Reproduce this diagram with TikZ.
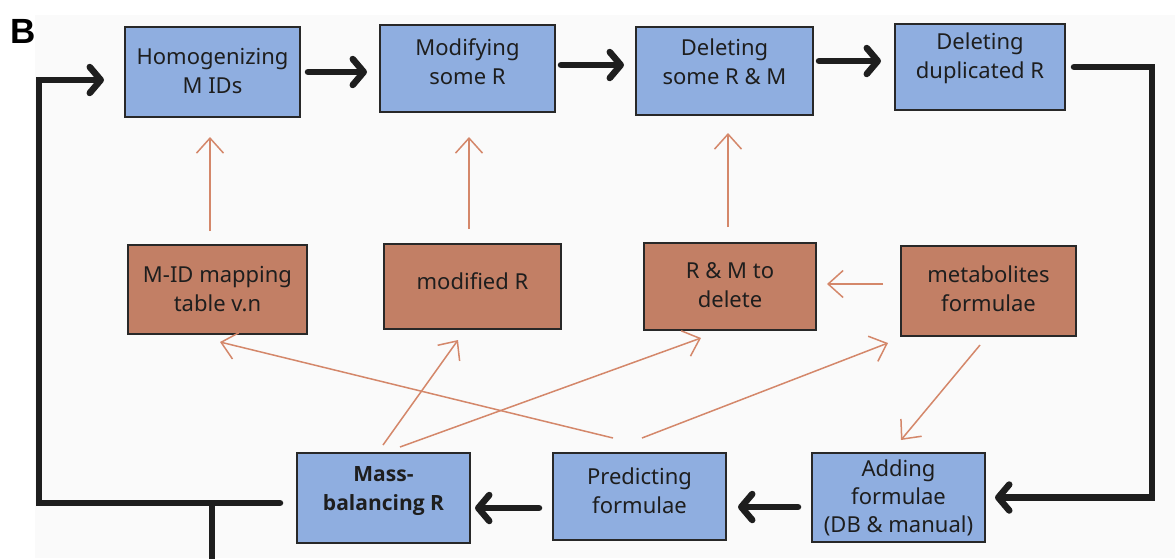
\documentclass[tikz,border=0pt]{standalone}
\usepackage{fontspec}
\setmainfont{Noto Sans}
\newfontfamily\heavyfont{Open Sans}
\newfontfamily\panelfont{Liberation Sans}
\usetikzlibrary{arrows.meta}

\definecolor{boxblue}{RGB}{143,174,224}
\definecolor{boxbrown}{RGB}{194,127,101}
\definecolor{linkorange}{RGB}{212,135,106}
\definecolor{frameline}{RGB}{40,40,40}
\definecolor{inktext}{RGB}{30,30,30}
\definecolor{paper}{RGB}{250,250,250}
\definecolor{flowink}{RGB}{30,30,30}

\tikzset{
  stage/.style={draw=frameline, line width=2pt, fill=boxblue, inner sep=0pt},
  datum/.style={stage, fill=boxbrown},
  caption/.style={inner sep=0pt, text=inktext, align=center,
    font=\fontsize{22}{29}\selectfont},
  flow/.style={draw=flowink, line width=6.5pt, line cap=round, line join=miter,
    -{Straight Barb[length=11pt,width=26pt,round]}},
  feed/.style={draw=linkorange, line width=1.5pt,
    -{Straight Barb[length=15pt,width=27pt]}},
}

\begin{document}
\begin{tikzpicture}[x=1pt,y=-1pt]
\useasboundingbox (0,0) rectangle (1175,558);
\fill[paper] (35,15) rectangle (1175,558);

\node[font=\panelfont\bfseries\fontsize{35}{35}\selectfont, anchor=base west, inner sep=0pt]
  (panel) at (10,43) {B};

% processing steps, top row
\node[stage, minimum width=175pt, minimum height=90pt] (hom) at (212.5,72) {};
\node[stage, minimum width=175pt, minimum height=87pt] (mod) at (467.5,68.5) {};
\node[stage, minimum width=177pt, minimum height=88pt] (del) at (724.5,71) {};
\node[stage, minimum width=170pt, minimum height=86pt] (dup) at (980,67) {};
\node[caption] (hom-t) at ([yshift=1pt]hom.center) {Homogenizing\\M IDs};
\node[caption] (mod-t) at ([yshift=7pt]mod.center) {Modifying\\some R};
\node[caption] (del-t) at ([yshift=9pt]del.center) {Deleting\\some R \& M};
\node[caption] (dup-t) at ([yshift=8.5pt]dup.center) {Deleting\\duplicated R};

% data inputs, middle row
\node[datum, minimum width=179pt, minimum height=89pt] (map) at (217.5,289.5) {};
\node[datum, minimum width=177pt, minimum height=85pt] (modr) at (472.5,286.5) {};
\node[datum, minimum width=172pt, minimum height=87pt] (rm) at (730,286.5) {};
\node[datum, minimum width=175pt, minimum height=90pt] (met) at (988.5,291) {};
\node[caption] (map-t) at ([yshift=0pt]map.center) {M-ID mapping\\table v.n};
\node[caption] (modr-t) at ([yshift=5pt]modr.center) {modified R};
\node[caption] (rm-t) at ([yshift=1.5pt]rm.center) {R \& M to\\delete};
\node[caption] (met-t) at ([yshift=2pt]met.center) {metabolites\\formulae};

% processing steps, bottom row
\node[stage, minimum width=173pt, minimum height=90pt] (mass) at (383.5,498) {};
\node[stage, minimum width=173pt, minimum height=87pt] (pred) at (639.5,496.5) {};
\node[stage, minimum width=173pt, minimum height=89pt] (add) at (898.5,497.5) {};
\node[caption, font=\heavyfont\bfseries\fontsize{21}{29}\selectfont] (mass-t)
  at ([yshift=7pt]mass.center) {Mass-\\balancing R};
\node[caption] (pred-t) at ([yshift=6pt]pred.center) {Predicting\\formulae};
\node[caption, font=\fontsize{22}{28}\selectfont] (add-t)
  at ([yshift=0pt]add.center) {Adding\\formulae\\(DB \& manual)};

% main workflow
\draw[flow, shorten <=7pt, shorten >=12pt] (hom.east) -- (hom.east -| mod.west);
\draw[flow, shorten <=5pt, shorten >=11pt] ([yshift=3.5pt]mod.east) -- ([yshift=3.5pt]mod.east -| del.west);
\draw[flow, shorten <=5pt, shorten >=13pt] ([yshift=10pt]del.east) -- ([yshift=10pt]del.east -| dup.west);
\draw[flow, shorten <=8pt, shorten >=9pt] (dup.east) -- ++(86,0) |- (add.east);
\draw[flow, shorten <=13pt, shorten >=11pt] ([yshift=-9.5pt]add.west) -- ([yshift=-9.5pt]add.west -| pred.east);
\draw[flow, shorten <=13pt, shorten >=4pt] ([yshift=-11.5pt]pred.west) -- ([yshift=-11.5pt]pred.west -| mass.east);
\draw[flow, shorten <=16pt, shorten >=20pt] ([yshift=-5pt]mass.west) -- ++(-257,0) |- ([yshift=-8pt]hom.west);

% outlet below the loop
\coordinate (tap) at (212,503);
\coordinate (tapend) at (212,560);
\draw[draw=flowink, line width=6.5pt] (tap) -- (tapend);

% data feeding the steps
\draw[feed] ([xshift=-7.5pt,yshift=13pt]map.north) -- ([xshift=-2.5pt,yshift=-19pt]hom.south);
\draw[feed] ([xshift=-3.5pt,yshift=14pt]modr.north) -- ([xshift=1.5pt,yshift=-24pt]mod.south);
\draw[feed] ([xshift=-2pt,yshift=15pt]rm.north) -- ([xshift=3.5pt,yshift=-17pt]del.south);
\draw[feed] ([xshift=-17pt,yshift=7pt]met.west) -- ([xshift=10pt,yshift=2.5pt]rm.east);
\draw[feed] ([xshift=-8.5pt,yshift=-8pt]met.south) -- ([xshift=2.5pt,yshift=12pt]add.north);
\draw[feed] ([xshift=2.5pt,yshift=14pt]pred.north) -- ([xshift=-12pt,yshift=-6pt]met.south west);
\draw[feed] ([xshift=-26.5pt,yshift=14pt]pred.north) -- ([xshift=2.5pt,yshift=-7pt]map.south);
\draw[feed] ([xshift=-0.5pt,yshift=7pt]mass.north) -- ([xshift=-14.5pt,yshift=-10pt]modr.south);
\draw[feed] ([xshift=16.5pt,yshift=5pt]mass.north) -- ([xshift=-29pt,yshift=-7pt]rm.south);
\end{tikzpicture}
\end{document}
